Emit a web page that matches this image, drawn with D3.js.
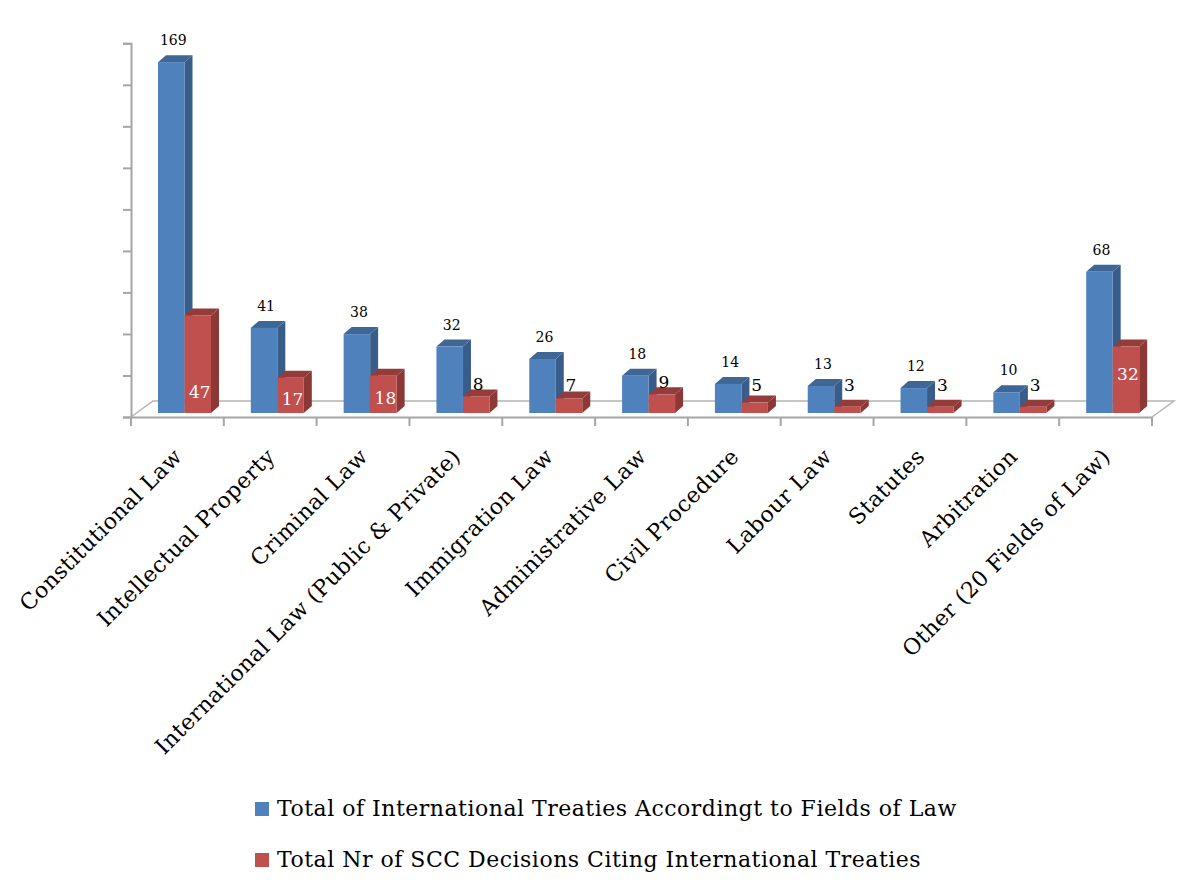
<!DOCTYPE html>
<html>
<head>
<meta charset="utf-8">
<script src="https://cdn.jsdelivr.net/npm/d3@7"></script>
<style>
  body { margin: 0; background: #fff; }
  svg text { font-family: "DejaVu Serif", "Liberation Serif", serif; }
</style>
</head>
<body>
<svg id="chart"></svg>
<script>
// data
var categories = [
  "Constitutional Law",
  "Intellectual Property",
  "Criminal Law",
  "International Law (Public & Private)",
  "Immigration Law",
  "Administrative Law",
  "Civil Procedure",
  "Labour Law",
  "Statutes",
  "Arbitration",
  "Other (20 Fields of Law)"
];
var treaties = [169, 41, 38, 32, 26, 18, 14, 13, 12, 10, 68];
var decisions = [47, 17, 18, 8, 7, 9, 5, 3, 3, 3, 32];
var seriesNames = [
  "Total of International Treaties Accordingt to Fields of Law",
  "Total Nr of SCC Decisions Citing International Treaties"
];
var yTicks = [0, 20, 40, 60, 80, 100, 120, 140, 160, 180];

function buildChart() {
  var svg = d3.select("#chart").attr("width", 1200).attr("height", 894);

  var left = 131, right = 1152, bottom = 417, top = 43.3;
  var floorDx = 22, floorDy = -16; // floor depth
  var barDx = 8, barDy = -7;       // bar depth

  var xScale = d3.scaleBand().domain(categories).range([left, right]);
  var xSub = d3.scaleBand().domain([0, 1]).range([27, 80]);
  var yScale = d3.scaleLinear().domain([0, 180]).range([bottom, top]);
  var lift = 4; // bars stand a bit back from the front edge of the floor

  var grey = "#a6a6a6";

  // floor
  svg.append("path")
    .attr("d", "M" + left + "," + bottom +
      "L" + (left + floorDx) + "," + (bottom + floorDy) +
      "L" + (right + floorDx) + "," + (bottom + floorDy) +
      "L" + right + "," + bottom)
    .attr("fill", "none")
    .attr("stroke", "#b4b4b4")
    .attr("stroke-width", 1.5);

  // vertical axis (no labels)
  var yAxis = svg.append("g")
    .attr("transform", "translate(" + left + ",0)")
    .call(d3.axisLeft(yScale).tickValues(yTicks).tickSize(8).tickFormat(""));
  yAxis.select(".domain").attr("stroke", grey).attr("stroke-width", 2);
  yAxis.selectAll(".tick line").attr("stroke", grey).attr("stroke-width", 2);

  // category axis
  var xAxis = svg.append("g")
    .attr("transform", "translate(0," + bottom + ")")
    .call(d3.axisBottom(xScale).tickSize(0).tickFormat(""));
  xAxis.select(".domain").attr("stroke", grey).attr("stroke-width", 2);
  var bounds = d3.range(categories.length + 1).map(function(i) {
    return left + i * xScale.bandwidth();
  });
  xAxis.selectAll("line.sep")
    .data(bounds)
    .enter()
    .append("line")
    .attr("class", "sep")
    .attr("x1", function(d) { return d; })
    .attr("x2", function(d) { return d; })
    .attr("y1", 0)
    .attr("y2", 9)
    .attr("stroke", grey)
    .attr("stroke-width", 2);

  // bars
  var colours = [
    { front: "#4f81bd", side: "#385d8a", top: "#3e6796" },
    { front: "#c0504d", side: "#8c3836", top: "#953c3a" }
  ];
  var rows = [];
  categories.forEach(function(c, i) {
    rows.push({ cat: c, s: 0, v: treaties[i] });
    rows.push({ cat: c, s: 1, v: decisions[i] });
  });
  var w = xSub.bandwidth();
  var y0 = yScale(0) - lift;

  var bars = svg.selectAll("g.bar")
    .data(rows)
    .enter()
    .append("g")
    .attr("class", "bar");

  bars.each(function(d) {
    var g = d3.select(this);
    var x = xScale(d.cat) + xSub(d.s);
    var y = yScale(d.v) - lift;
    var col = colours[d.s];
    g.append("path")
      .attr("d", "M" + (x + w) + "," + y +
        "L" + (x + w + barDx) + "," + (y + barDy) +
        "L" + (x + w + barDx) + "," + (y0 + barDy) +
        "L" + (x + w) + "," + y0 + "Z")
      .attr("fill", col.side);
    g.append("path")
      .attr("d", "M" + x + "," + y +
        "L" + (x + barDx) + "," + (y + barDy) +
        "L" + (x + w + barDx) + "," + (y + barDy) +
        "L" + (x + w) + "," + y + "Z")
      .attr("fill", col.top);
    g.append("rect")
      .attr("x", x)
      .attr("y", y)
      .attr("width", w)
      .attr("height", y0 - y)
      .attr("fill", col.front);
  });

  // value labels
  function inside(d) {
    return d.s === 1 && y0 - (yScale(d.v) - lift) >= 30;
  }
  bars.append("text")
    .attr("text-anchor", "middle")
    .attr("x", function(d) {
      return xScale(d.cat) + xSub(d.s) + w / 2 + 2;
    })
    .attr("y", function(d) {
      var y = yScale(d.v) - lift;
      if (d.s === 0) return y - 17;
      if (!inside(d)) return Math.min(y - 6, y0 - 22);
      // the red bar of the last group keeps its label mid-bar
      if (d.v > 30 && d.v < 40) return (y + y0) / 2;
      return Math.max((y + y0) / 2 + 10, y0 - 15);
    })
    .attr("font-size", function(d) { return d.s === 0 ? "14px" : "17px"; })
    .attr("fill", function(d) { return inside(d) ? "#fff" : "#000"; })
    .text(function(d) { return d.v; });

  // category labels
  svg.selectAll("text.cat")
    .data(categories)
    .enter()
    .append("text")
    .attr("class", "cat")
    .attr("text-anchor", "end")
    .attr("font-size", "22px")
    .attr("letter-spacing", "0.4px")
    .attr("transform", function(d) {
      var cx = xScale(d) + xScale.bandwidth() / 2 + 6;
      return "translate(" + cx + ",458) rotate(-45)";
    })
    .text(function(d) { return d; });

  // legend
  var legend = svg.selectAll("g.legend")
    .data(seriesNames)
    .enter()
    .append("g")
    .attr("class", "legend")
    .attr("transform", function(d, i) {
      return "translate(255," + (802 + i * 51) + ")";
    });
  legend.append("rect")
    .attr("width", 14)
    .attr("height", 14)
    .attr("fill", function(d, i) { return colours[i].front; });
  legend.append("text")
    .attr("x", 22)
    .attr("y", 14)
    .attr("font-size", "22px")
    .attr("letter-spacing", "0.5px")
    .text(function(d) { return d; });
}

buildChart();
</script>
</body>
</html>
